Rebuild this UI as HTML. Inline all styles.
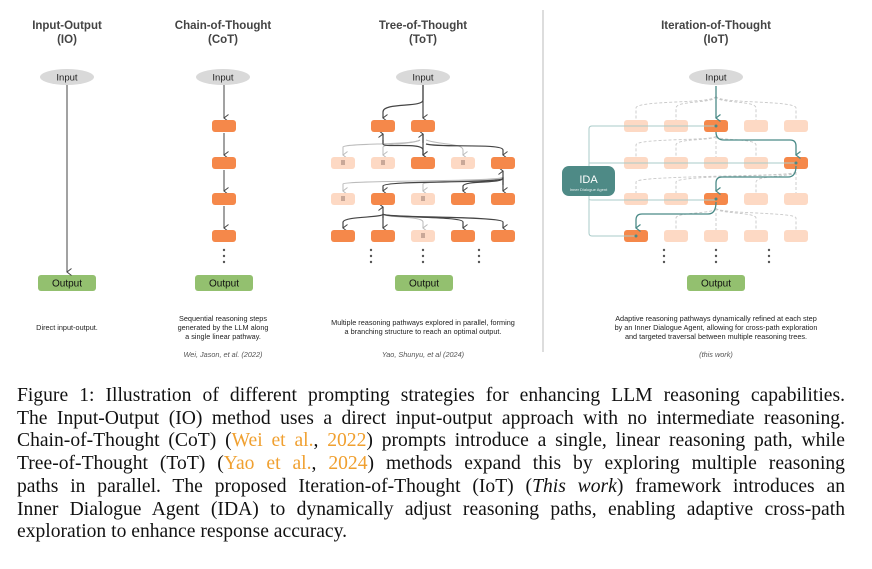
<!DOCTYPE html>
<html><head><meta charset="utf-8"><style>
body{margin:0;background:#fff;width:872px;height:569px;overflow:hidden;position:relative}
svg{position:absolute;left:0;top:0}
.cap{position:absolute;left:17px;width:828px;font-family:"Liberation Serif",serif;font-size:19.6px;line-height:22.7px;color:#111}
.cap div{text-align:justify;text-align-last:justify;white-space:nowrap}
.cap div.last{text-align-last:left}
.o{color:#f0a030}
</style></head><body>
<svg width="872" height="370" viewBox="0 0 872 370" font-family="Liberation Sans, sans-serif">
<defs>
<marker id="a" markerWidth="8" markerHeight="8" refX="4" refY="6" orient="auto" markerUnits="userSpaceOnUse"><path d="M0.5,1.5 L4,6 L7.5,1.5" fill="none" stroke="#444" stroke-width="1"/></marker>
<marker id="g" markerWidth="8" markerHeight="8" refX="4" refY="6" orient="auto" markerUnits="userSpaceOnUse"><path d="M0.5,1.5 L4,6 L7.5,1.5" fill="none" stroke="#bbb" stroke-width="1"/></marker>
<marker id="t" markerWidth="8" markerHeight="8" refX="4" refY="6" orient="auto" markerUnits="userSpaceOnUse"><path d="M0.5,1.5 L4,6 L7.5,1.5" fill="none" stroke="#4a8a87" stroke-width="1.2"/></marker>
</defs>
<g font-weight="bold" font-size="11.5" fill="#444" text-anchor="middle">
<text x="67" y="29">Input-Output</text><text x="67" y="43">(IO)</text>
<text x="223" y="29">Chain-of-Thought</text><text x="223" y="43">(CoT)</text>
<text x="423" y="29">Tree-of-Thought</text><text x="423" y="43">(ToT)</text>
<text x="716" y="29">Iteration-of-Thought</text><text x="716" y="43">(IoT)</text>
</g>
<line x1="543" y1="10" x2="543" y2="352" stroke="#ddd" stroke-width="2"/>
<g fill="#d9d9d9"><ellipse cx="67" cy="77" rx="27" ry="8"/><ellipse cx="223" cy="77" rx="27" ry="8"/><ellipse cx="423" cy="77" rx="27" ry="8"/><ellipse cx="716" cy="77" rx="27" ry="8"/></g>
<g font-size="9.5" fill="#222" text-anchor="middle"><text x="67" y="80.5">Input</text><text x="223" y="80.5">Input</text><text x="423" y="80.5">Input</text><text x="716" y="80.5">Input</text></g>
<g fill="#93c06f"><rect x="38" y="275" width="58" height="16" rx="3"/><rect x="195" y="275" width="58" height="16" rx="3"/><rect x="395" y="275" width="58" height="16" rx="3"/><rect x="687" y="275" width="58" height="16" rx="3"/></g>
<g font-size="10" fill="#111" text-anchor="middle"><text x="67" y="286.5">Output</text><text x="224" y="286.5">Output</text><text x="424" y="286.5">Output</text><text x="716" y="286.5">Output</text></g>
<line x1="67" y1="85" x2="67" y2="272" stroke="#444" marker-end="url(#a)"/>
<g stroke="#444" fill="none"><line x1="224" y1="85" x2="224" y2="118" marker-end="url(#a)"/><line x1="224" y1="133" x2="224" y2="155" marker-end="url(#a)"/><line x1="224" y1="170" x2="224" y2="191" marker-end="url(#a)"/><line x1="224" y1="206" x2="224" y2="228" marker-end="url(#a)"/></g>
<g fill="#f5884a"><rect x="212" y="120" width="24" height="12" rx="3"/><rect x="212" y="157" width="24" height="12" rx="3"/><rect x="212" y="193" width="24" height="12" rx="3"/><rect x="212" y="230" width="24" height="12" rx="3"/></g>
<g fill="#555"><circle cx="224" cy="250" r="1.2"/><circle cx="224" cy="256" r="1.2"/><circle cx="224" cy="262" r="1.2"/></g>
<g fill="none" stroke="#bbb" stroke-width="1">
<path d="M420,140 C415,145 345,143 343,147 L343,155" marker-end="url(#g)"/>
<path d="M420,140 C410,145 385,143 383,147 L383,155" marker-end="url(#g)"/>
<path d="M426,140 C440,145 463,143 463,150 L463,155" marker-end="url(#g)"/>
<path d="M503,177 C500,182 345,180 343,184 L343,191" marker-end="url(#g)"/>
<path d="M503,177 C500,182 425,180 423,184 L423,191" marker-end="url(#g)"/>
<path d="M383,214 C385,218 423,216 423,222 L423,228" marker-end="url(#g)"/>
</g>
<g fill="none" stroke="#444" stroke-width="1.2">
<path d="M423,85 L423,100 C423,108 383,102 383,112 L383,118" marker-end="url(#a)"/>
<line x1="423" y1="85" x2="423" y2="118" marker-end="url(#a)"/>
<path d="M383,140 L383,144 C383,148 423,142 423,150 L423,155" marker-end="url(#a)"/>
<line x1="383" y1="143" x2="383" y2="134" marker-end="url(#a)"/>
<line x1="423" y1="134" x2="423" y2="155" marker-end="url(#a)"/>
<line x1="423" y1="143" x2="423" y2="134" marker-end="url(#a)"/>
<path d="M426,144 C440,148 503,143 503,150 L503,155" marker-end="url(#a)"/>
<path d="M503,178 C503,184 385,180 383,186 L383,191" marker-end="url(#a)"/>
<path d="M503,178 C503,184 465,180 463,186 L463,191" marker-end="url(#a)"/>
<line x1="503" y1="177" x2="503" y2="191" marker-end="url(#a)"/>
<line x1="503" y1="185" x2="503" y2="171" marker-end="url(#a)"/>
<line x1="383" y1="214" x2="383" y2="228" marker-end="url(#a)"/>
<line x1="383" y1="218" x2="383" y2="207" marker-end="url(#a)"/>
<path d="M383,214 C383,218 345,216 343,222 L343,228" marker-end="url(#a)"/>
<path d="M383,214 C385,218 463,216 463,222 L463,228" marker-end="url(#a)"/>
<path d="M383,214 C385,218 503,216 503,222 L503,228" marker-end="url(#a)"/>
</g>
<g fill="#f5884a">
<rect x="371" y="120" width="24" height="12" rx="3"/><rect x="411" y="120" width="24" height="12" rx="3"/>
<rect x="411" y="157" width="24" height="12" rx="3"/><rect x="491" y="157" width="24" height="12" rx="3"/>
<rect x="371" y="193" width="24" height="12" rx="3"/><rect x="451" y="193" width="24" height="12" rx="3"/><rect x="491" y="193" width="24" height="12" rx="3"/>
<rect x="331" y="230" width="24" height="12" rx="3"/><rect x="371" y="230" width="24" height="12" rx="3"/><rect x="451" y="230" width="24" height="12" rx="3"/><rect x="491" y="230" width="24" height="12" rx="3"/>
</g>
<g fill="#fdd9c4">
<rect x="331" y="157" width="24" height="12" rx="3"/><rect x="371" y="157" width="24" height="12" rx="3"/><rect x="451" y="157" width="24" height="12" rx="3"/>
<rect x="331" y="193" width="24" height="12" rx="3"/><rect x="411" y="193" width="24" height="12" rx="3"/>
<rect x="411" y="230" width="24" height="12" rx="3"/>
</g>
<g fill="#c9a898"><rect x="341" y="160" width="4" height="5"/><rect x="381" y="160" width="4" height="5"/><rect x="461" y="160" width="4" height="5"/><rect x="341" y="196" width="4" height="5"/><rect x="421" y="196" width="4" height="5"/><rect x="421" y="233" width="4" height="5"/></g>
<g fill="#555"><circle cx="371" cy="250" r="1.2"/><circle cx="371" cy="256" r="1.2"/><circle cx="371" cy="262" r="1.2"/><circle cx="423" cy="250" r="1.2"/><circle cx="423" cy="256" r="1.2"/><circle cx="423" cy="262" r="1.2"/><circle cx="479" cy="250" r="1.2"/><circle cx="479" cy="256" r="1.2"/><circle cx="479" cy="262" r="1.2"/></g>
<g fill="none" stroke="#c8c8c8" stroke-dasharray="3,2" stroke-width="0.9">
<path d="M716,96 C716,104 636,100 636,108 L636,120 M716,96 C716,104 676,100 676,108 L676,120 M716,96 C716,104 756,100 756,108 L756,120 M716,96 C716,104 796,100 796,108 L796,120"/>
<path d="M716,136 C716,141 636,138 636,145 L636,157 M716,136 C716,141 676,138 676,145 L676,157 M716,136 L716,157 M716,136 C716,141 756,138 756,145 L756,157"/>
<path d="M796,172 C796,177 636,175 636,182 L636,193 M796,172 C796,177 676,175 676,182 L676,193 M796,172 C796,177 756,175 756,182 L756,193 M796,172 L796,193"/>
<path d="M716,208 C716,214 796,212 796,218 L796,230 M716,208 C716,214 676,212 676,218 L676,230 M716,208 L716,230 M716,208 C716,214 756,212 756,218 L756,230"/>
</g>
<g fill="#fdd9c4">
<rect x="624" y="120" width="24" height="12" rx="3"/><rect x="664" y="120" width="24" height="12" rx="3"/><rect x="744" y="120" width="24" height="12" rx="3"/><rect x="784" y="120" width="24" height="12" rx="3"/>
<rect x="624" y="157" width="24" height="12" rx="3"/><rect x="664" y="157" width="24" height="12" rx="3"/><rect x="704" y="157" width="24" height="12" rx="3"/><rect x="744" y="157" width="24" height="12" rx="3"/>
<rect x="624" y="193" width="24" height="12" rx="3"/><rect x="664" y="193" width="24" height="12" rx="3"/><rect x="744" y="193" width="24" height="12" rx="3"/><rect x="784" y="193" width="24" height="12" rx="3"/>
<rect x="664" y="230" width="24" height="12" rx="3"/><rect x="704" y="230" width="24" height="12" rx="3"/><rect x="744" y="230" width="24" height="12" rx="3"/><rect x="784" y="230" width="24" height="12" rx="3"/>
</g>
<g fill="#f5884a"><rect x="704" y="120" width="24" height="12" rx="3"/><rect x="784" y="157" width="24" height="12" rx="3"/><rect x="704" y="193" width="24" height="12" rx="3"/><rect x="624" y="230" width="24" height="12" rx="3"/></g>
<g fill="none" stroke="#a9cbc9" stroke-width="1">
<path d="M716,126 L592,126 Q589,126 589,129 L589,171"/>
<path d="M589,163 L796,163"/>
<path d="M589,196 L589,199 Q589,200 592,200 L716,200"/>
<path d="M589,196 L589,233 Q589,236 592,236 L636,236"/>
</g>
<g fill="none" stroke="#4a8a87" stroke-width="1.3">
<line x1="716" y1="86" x2="716" y2="118" marker-end="url(#t)"/>
<path d="M716,132 Q716,140 724,140 L790,140 Q796,140 796,146 L796,155" marker-end="url(#t)"/>
<path d="M796,166 Q796,177 788,177 L722,177 Q716,177 716,183 L716,191" marker-end="url(#t)"/>
<path d="M716,202 Q716,214 708,214 L642,214 Q636,214 636,220 L636,228" marker-end="url(#t)"/>
</g>
<g fill="#4a8a87"><circle cx="716" cy="126" r="1.5"/><circle cx="796" cy="163" r="1.5"/><circle cx="716" cy="199" r="1.5"/><circle cx="636" cy="236" r="1.5"/></g>
<rect x="562" y="166" width="53" height="30" rx="7" fill="#4e8a86"/>
<text x="588.5" y="183" font-size="11" fill="#fff" text-anchor="middle">IDA</text>
<text x="588.5" y="191" font-size="4" fill="#e8f0ef" text-anchor="middle">Inner Dialogue Agent</text>
<g fill="#555"><circle cx="664" cy="250" r="1.2"/><circle cx="664" cy="256" r="1.2"/><circle cx="664" cy="262" r="1.2"/><circle cx="716" cy="250" r="1.2"/><circle cx="716" cy="256" r="1.2"/><circle cx="716" cy="262" r="1.2"/><circle cx="769" cy="250" r="1.2"/><circle cx="769" cy="256" r="1.2"/><circle cx="769" cy="262" r="1.2"/></g>
<g font-size="7.3" fill="#222" text-anchor="middle">
<text x="67" y="330">Direct input-output.</text>
<text x="223" y="321">Sequential reasoning steps</text><text x="223" y="330">generated by the LLM along</text><text x="223" y="339">a single linear pathway.</text>
<text x="423" y="325">Multiple reasoning pathways explored in parallel, forming</text><text x="423" y="334">a branching structure to reach an optimal output.</text>
<text x="716" y="321">Adaptive reasoning pathways dynamically refined at each step</text><text x="716" y="330">by an Inner Dialogue Agent, allowing for cross-path exploration</text><text x="716" y="339">and targeted traversal between multiple reasoning trees.</text>
</g>
<g font-size="7.3" fill="#555" font-style="italic" text-anchor="middle">
<text x="223" y="357">Wei, Jason, et al. (2022)</text><text x="423" y="357">Yao, Shunyu, et al (2024)</text><text x="716" y="357">(this work)</text>
</g>
</svg>
<div class="cap" style="top:385px">
<div>Figure 1: Illustration of different prompting strategies for enhancing LLM reasoning capabilities.</div>
<div>The Input-Output (IO) method uses a direct input-output approach with no intermediate reasoning.</div>
<div>Chain-of-Thought (CoT) (<span class="o">Wei et al.</span>, <span class="o">2022</span>) prompts introduce a single, linear reasoning path, while</div>
<div>Tree-of-Thought (ToT) (<span class="o">Yao et al.</span>, <span class="o">2024</span>) methods expand this by exploring multiple reasoning</div>
<div>paths in parallel.  The proposed Iteration-of-Thought (IoT) (<i>This work</i>) framework introduces an</div>
<div>Inner Dialogue Agent (IDA) to dynamically adjust reasoning paths, enabling adaptive cross-path</div>
<div class="last">exploration to enhance response accuracy.</div>
</div>
</body></html>
